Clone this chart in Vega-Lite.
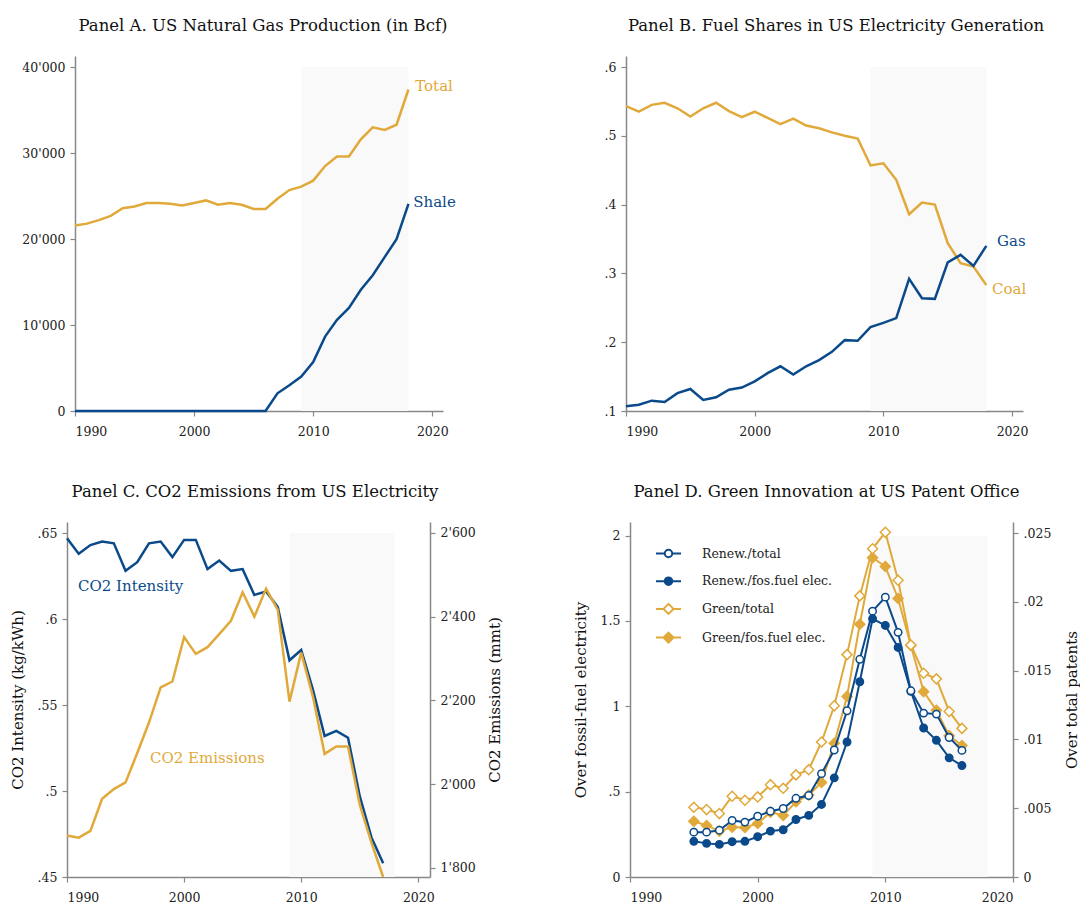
{
  "$schema": "https://vega.github.io/schema/vega-lite/v6.json",
  "background": "white",
  "padding": {"left": 10, "top": 17, "right": 0, "bottom": 0},
  "config": {
    "font": "DejaVu Serif",
    "view": {"stroke": null},
    "axis": {"grid": false, "domainColor": "#888888", "tickColor": "#888888", "domainWidth": 1.5, "tickWidth": 1.2, "tickSize": 5,
      "labelFont": "DejaVu Serif", "labelFontSize": 12.5, "labelColor": "#222222", "titleFont": "DejaVu Serif", "titleFontSize": 15,
      "titleFontWeight": "normal", "titleColor": "#111111"},
    "axisX": {"labelPadding": 9},
    "axisY": {"labelPadding": 5},
    "title": {"font": "DejaVu Serif", "fontSize": 16.5, "fontWeight": "normal", "color": "#111111", "anchor": "middle", "frame": "group", "offset": 22}
  },
  "datasets": {
    "gas": [
      {"year": 1990, "Total": 21570, "Shale": 0}, {"year": 1991, "Total": 21800, "Shale": 0}, {"year": 1992, "Total": 22200, "Shale": 0},
      {"year": 1993, "Total": 22700, "Shale": 0}, {"year": 1994, "Total": 23600, "Shale": 0}, {"year": 1995, "Total": 23800, "Shale": 0},
      {"year": 1996, "Total": 24200, "Shale": 0}, {"year": 1997, "Total": 24200, "Shale": 0}, {"year": 1998, "Total": 24100, "Shale": 0},
      {"year": 1999, "Total": 23900, "Shale": 0}, {"year": 2000, "Total": 24200, "Shale": 0}, {"year": 2001, "Total": 24500, "Shale": 0},
      {"year": 2002, "Total": 24000, "Shale": 0}, {"year": 2003, "Total": 24200, "Shale": 0}, {"year": 2004, "Total": 24000, "Shale": 0},
      {"year": 2005, "Total": 23500, "Shale": 0}, {"year": 2006, "Total": 23500, "Shale": 0}, {"year": 2007, "Total": 24700, "Shale": 2060},
      {"year": 2008, "Total": 25700, "Shale": 3000}, {"year": 2009, "Total": 26100, "Shale": 4000}, {"year": 2010, "Total": 26800, "Shale": 5700},
      {"year": 2011, "Total": 28500, "Shale": 8650}, {"year": 2012, "Total": 29600, "Shale": 10600}, {"year": 2013, "Total": 29600, "Shale": 12000},
      {"year": 2014, "Total": 31600, "Shale": 14100}, {"year": 2015, "Total": 33000, "Shale": 15800}, {"year": 2016, "Total": 32700, "Shale": 17900},
      {"year": 2017, "Total": 33300, "Shale": 20000}, {"year": 2018, "Total": 37400, "Shale": 24100}
    ],
    "fuel": [
      {"year": 1990, "Coal": 0.543, "Gas": 0.107}, {"year": 1991, "Coal": 0.535, "Gas": 0.109}, {"year": 1992, "Coal": 0.545, "Gas": 0.115},
      {"year": 1993, "Coal": 0.548, "Gas": 0.113}, {"year": 1994, "Coal": 0.540, "Gas": 0.126}, {"year": 1995, "Coal": 0.528, "Gas": 0.132},
      {"year": 1996, "Coal": 0.540, "Gas": 0.116}, {"year": 1997, "Coal": 0.548, "Gas": 0.120}, {"year": 1998, "Coal": 0.536, "Gas": 0.131},
      {"year": 1999, "Coal": 0.527, "Gas": 0.134}, {"year": 2000, "Coal": 0.535, "Gas": 0.143}, {"year": 2001, "Coal": 0.526, "Gas": 0.155},
      {"year": 2002, "Coal": 0.517, "Gas": 0.165}, {"year": 2003, "Coal": 0.525, "Gas": 0.153}, {"year": 2004, "Coal": 0.515, "Gas": 0.165},
      {"year": 2005, "Coal": 0.511, "Gas": 0.174}, {"year": 2006, "Coal": 0.505, "Gas": 0.186}, {"year": 2007, "Coal": 0.500, "Gas": 0.203},
      {"year": 2008, "Coal": 0.496, "Gas": 0.202}, {"year": 2009, "Coal": 0.457, "Gas": 0.222}, {"year": 2010, "Coal": 0.460, "Gas": 0.228},
      {"year": 2011, "Coal": 0.436, "Gas": 0.235}, {"year": 2012, "Coal": 0.386, "Gas": 0.292}, {"year": 2013, "Coal": 0.403, "Gas": 0.264},
      {"year": 2014, "Coal": 0.400, "Gas": 0.263}, {"year": 2015, "Coal": 0.344, "Gas": 0.316}, {"year": 2016, "Coal": 0.315, "Gas": 0.327},
      {"year": 2017, "Coal": 0.310, "Gas": 0.311}, {"year": 2018, "Coal": 0.283, "Gas": 0.340}
    ],
    "co2": [
      {"year": 1990, "intensity": 0.647, "emissions": 1877}, {"year": 1991, "intensity": 0.638, "emissions": 1872},
      {"year": 1992, "intensity": 0.643, "emissions": 1888}, {"year": 1993, "intensity": 0.645, "emissions": 1965},
      {"year": 1994, "intensity": 0.644, "emissions": 1988}, {"year": 1995, "intensity": 0.628, "emissions": 2004},
      {"year": 1996, "intensity": 0.633, "emissions": 2074}, {"year": 1997, "intensity": 0.644, "emissions": 2147},
      {"year": 1998, "intensity": 0.645, "emissions": 2231}, {"year": 1999, "intensity": 0.636, "emissions": 2245},
      {"year": 2000, "intensity": 0.646, "emissions": 2351}, {"year": 2001, "intensity": 0.646, "emissions": 2311},
      {"year": 2002, "intensity": 0.629, "emissions": 2327}, {"year": 2003, "intensity": 0.634, "emissions": 2358},
      {"year": 2004, "intensity": 0.628, "emissions": 2390}, {"year": 2005, "intensity": 0.629, "emissions": 2458},
      {"year": 2006, "intensity": 0.614, "emissions": 2400}, {"year": 2007, "intensity": 0.616, "emissions": 2467},
      {"year": 2008, "intensity": 0.607, "emissions": 2416}, {"year": 2009, "intensity": 0.576, "emissions": 2197},
      {"year": 2010, "intensity": 0.582, "emissions": 2314}, {"year": 2011, "intensity": 0.559, "emissions": 2209},
      {"year": 2012, "intensity": 0.532, "emissions": 2072}, {"year": 2013, "intensity": 0.535, "emissions": 2090},
      {"year": 2014, "intensity": 0.531, "emissions": 2090}, {"year": 2015, "intensity": 0.497, "emissions": 1951},
      {"year": 2016, "intensity": 0.473, "emissions": 1860}, {"year": 2017, "intensity": 0.458, "emissions": 1778}
    ],
    "pat": [
      {"year": 1995, "rt": 0.00326, "rf": 0.209, "gt": 0.00507, "gf": 0.326},
      {"year": 1996, "rt": 0.00326, "rf": 0.197, "gt": 0.00490, "gf": 0.302},
      {"year": 1997, "rt": 0.00340, "rf": 0.191, "gt": 0.00461, "gf": 0.269},
      {"year": 1998, "rt": 0.00411, "rf": 0.207, "gt": 0.00587, "gf": 0.292},
      {"year": 1999, "rt": 0.00399, "rf": 0.209, "gt": 0.00558, "gf": 0.290},
      {"year": 2000, "rt": 0.00442, "rf": 0.236, "gt": 0.00582, "gf": 0.314},
      {"year": 2001, "rt": 0.00478, "rf": 0.269, "gt": 0.00671, "gf": 0.380},
      {"year": 2002, "rt": 0.00498, "rf": 0.277, "gt": 0.00645, "gf": 0.361},
      {"year": 2003, "rt": 0.00572, "rf": 0.337, "gt": 0.00742, "gf": 0.441},
      {"year": 2004, "rt": 0.00592, "rf": 0.361, "gt": 0.00780, "gf": 0.480},
      {"year": 2005, "rt": 0.00751, "rf": 0.425, "gt": 0.00981, "gf": 0.554},
      {"year": 2006, "rt": 0.00923, "rf": 0.581, "gt": 0.01244, "gf": 0.784},
      {"year": 2007, "rt": 0.01208, "rf": 0.791, "gt": 0.01616, "gf": 1.058},
      {"year": 2008, "rt": 0.01582, "rf": 1.144, "gt": 0.02043, "gf": 1.481},
      {"year": 2009, "rt": 0.01932, "rf": 1.513, "gt": 0.02386, "gf": 1.871},
      {"year": 2010, "rt": 0.02034, "rf": 1.474, "gt": 0.02505, "gf": 1.819},
      {"year": 2011, "rt": 0.01778, "rf": 1.345, "gt": 0.02157, "gf": 1.632},
      {"year": 2012, "rt": 0.01353, "rf": 1.088, "gt": 0.01686, "gf": 1.357},
      {"year": 2013, "rt": 0.01191, "rf": 0.873, "gt": 0.01481, "gf": 1.086},
      {"year": 2014, "rt": 0.01184, "rf": 0.801, "gt": 0.01440, "gf": 0.977},
      {"year": 2015, "rt": 0.01014, "rf": 0.698, "gt": 0.01203, "gf": 0.828},
      {"year": 2016, "rt": 0.00920, "rf": 0.653, "gt": 0.01080, "gf": 0.770}
    ]
  },
  "columns": 2,
  "spacing": {"row": 111, "column": 183},
  "bounds": "flush",
  "concat": [
    {
      "width": 376, "height": 355,
      "title": {"text": "Panel A. US Natural Gas Production (in Bcf)", "dx": 8},
      "encoding": {
        "x": {"field": "year", "type": "quantitative", "scale": {"domain": [1990, 2020.9], "range": [8, 376], "nice": false, "zero": false},
          "axis": {"values": [1990, 2000, 2010, 2020], "format": "d", "title": null}},
        "y": {"field": "value", "type": "quantitative", "scale": {"domain": [0, 41300], "nice": false},
          "axis": {"values": [0, 10000, 20000, 30000, 40000], "title": null, "offset": -8, "labelExpr": "replace(format(datum.value, ','), /,/g, \"'\")"}}
      },
      "layer": [
        {"data": {"values": [{"year": 2009, "year2": 2018, "value": 0, "value2": 40000}]},
         "mark": {"type": "rect", "color": "#f9f9f9"},
         "encoding": {"x2": {"field": "year2"}, "y2": {"field": "value2"}}},
        {"data": {"name": "gas"}, "transform": [{"fold": ["Total", "Shale"], "as": ["series", "value"]}],
         "mark": {"type": "line", "strokeWidth": 2.5},
         "encoding": {"color": {"field": "series", "type": "nominal", "scale": {"domain": ["Total", "Shale"], "range": ["#e0a93a", "#0a4a8a"]}, "legend": null}}},
        {"data": {"values": [{"year": 2018.57, "value": 37790, "series": "Total"}, {"year": 2018.4, "value": 24300, "series": "Shale"}]},
         "mark": {"type": "text", "align": "left", "baseline": "middle", "fontSize": 15},
         "encoding": {"text": {"field": "series"}, "color": {"field": "series", "type": "nominal", "legend": null}}}
      ]
    },
    {
      "width": 397, "height": 355,
      "title": {"text": "Panel B. Fuel Shares in US Electricity Generation", "dx": 11.5},
      "encoding": {
        "x": {"field": "year", "type": "quantitative", "scale": {"domain": [1990, 2020.85], "nice": false, "zero": false},
          "axis": {"values": [1990, 2000, 2010, 2020], "format": "d", "title": null}},
        "y": {"field": "value", "type": "quantitative", "scale": {"domain": [0.1, 0.616], "nice": false, "zero": false},
          "axis": {"values": [0.1, 0.2, 0.3, 0.4, 0.5, 0.6], "title": null, "labelExpr": "replace(format(datum.value, '.1f'), /^0/, '')"}}
      },
      "layer": [
        {"data": {"values": [{"year": 2009, "year2": 2018, "value": 0.1, "value2": 0.6}]},
         "mark": {"type": "rect", "color": "#f9f9f9"},
         "encoding": {"x2": {"field": "year2"}, "y2": {"field": "value2"}}},
        {"data": {"name": "fuel"}, "transform": [{"fold": ["Coal", "Gas"], "as": ["series", "value"]}],
         "mark": {"type": "line", "strokeWidth": 2.5},
         "encoding": {"color": {"field": "series", "type": "nominal", "scale": {"domain": ["Coal", "Gas"], "range": ["#e0a93a", "#0a4a8a"]}, "legend": null}}},
        {"data": {"values": [{"year": 2018.83, "value": 0.347, "series": "Gas"}, {"year": 2018.44, "value": 0.277, "series": "Coal"}]},
         "mark": {"type": "text", "align": "left", "baseline": "middle", "fontSize": 15},
         "encoding": {"text": {"field": "series"}, "color": {"field": "series", "type": "nominal", "legend": null}}}
      ]
    },
    {
      "width": 376, "height": 355,
      "title": {"text": "Panel C. CO2 Emissions from US Electricity", "dx": 0},
      "encoding": {
        "x": {"field": "year", "type": "quantitative", "scale": {"domain": [1990, 2021], "range": [0, 363], "nice": false, "zero": false},
          "axis": {"values": [1990, 2000, 2010, 2020], "format": "d", "title": null}}
      },
      "layer": [
        {
          "encoding": {
            "y": {"field": "value", "type": "quantitative", "scale": {"domain": [0.45, 0.6564], "nice": false, "zero": false},
              "axis": {"values": [0.45, 0.5, 0.55, 0.6, 0.65], "title": "CO2 Intensity (kg/kWh)", "titlePadding": 12, "labelExpr": "replace(format(datum.value, '.2~f'), /^0/, '')"}}
          },
          "layer": [
            {"data": {"values": [{"year": 2009, "year2": 2018, "value": 0.45, "value2": 0.65}]},
             "mark": {"type": "rect", "color": "#f9f9f9"},
             "encoding": {"x2": {"field": "year2"}, "y2": {"field": "value2"}}},
            {"data": {"name": "co2"}, "transform": [{"fold": ["intensity"], "as": ["series", "value"]}],
             "mark": {"type": "line", "strokeWidth": 2.5, "color": "#0a4a8a"}},
            {"data": {"values": [{"year": 1990.94, "value": 0.619, "label": "CO2 Intensity"}]},
             "mark": {"type": "text", "align": "left", "baseline": "middle", "fontSize": 15, "color": "#0a4a8a"},
             "encoding": {"text": {"field": "label"}}}
          ]
        },
        {
          "encoding": {
            "y": {"field": "value", "type": "quantitative", "scale": {"domain": [1778, 2626], "nice": false, "zero": false},
              "axis": {"orient": "right", "offset": -13, "values": [1800, 2000, 2200, 2400, 2600], "title": "CO2 Emissions (mmt)", "titleAngle": 270, "titleBaseline": "top", "titlePadding": 12, "labelExpr": "replace(format(datum.value, ','), /,/g, \"'\")"}}
          },
          "layer": [
            {"data": {"name": "co2"}, "transform": [{"fold": ["emissions"], "as": ["series", "value"]}],
             "mark": {"type": "line", "strokeWidth": 2.5, "color": "#e0a93a"}},
            {"data": {"values": [{"year": 1997.09, "value": 2063, "label": "CO2 Emissions"}]},
             "mark": {"type": "text", "align": "left", "baseline": "middle", "fontSize": 15, "color": "#e0a93a"},
             "encoding": {"text": {"field": "label"}}}
          ]
        }
      ],
      "resolve": {"scale": {"y": "independent"}}
    },
    {
      "width": 397, "height": 355,
      "title": {"text": "Panel D. Green Innovation at US Patent Office", "dx": 2},
      "encoding": {
        "x": {"field": "year", "type": "quantitative", "scale": {"domain": [1990, 2020], "range": [4, 387], "nice": false, "zero": false},
          "axis": {"values": [1990, 2000, 2010, 2020], "format": "d", "title": null}}
      },
      "layer": [
        {
          "encoding": {
            "y": {"field": "value", "type": "quantitative", "scale": {"domain": [0, 2.08], "nice": false},
              "axis": {"offset": -4, "values": [0, 0.5, 1, 1.5, 2], "title": "Over fossil-fuel electricity", "titlePadding": 12, "labelExpr": "replace(format(datum.value, '~g'), /^0\\./, '.')"}}
          },
          "layer": [
            {"data": {"values": [{"year": 2009, "year2": 2018, "value": 0, "value2": 2}]},
             "mark": {"type": "rect", "color": "#f9f9f9"},
             "encoding": {"x2": {"field": "year2"}, "y2": {"field": "value2"}}},
            {"data": {"name": "pat"}, "transform": [{"fold": ["rf", "gf"], "as": ["series", "value"]}],
             "mark": {"type": "line", "strokeWidth": 2},
             "encoding": {"stroke": {"field": "series", "type": "nominal",
               "scale": {"domain": ["rt", "rf", "gt", "gf"], "range": ["#0a4a8a", "#0a4a8a", "#e0a93a", "#e0a93a"]},
               "legend": {"orient": "none", "legendX": 588, "legendY": 484, "title": null, "symbolSize": 625, "symbolStrokeWidth": 2,
                 "labelFont": "DejaVu Serif", "labelFontSize": 12.5, "labelColor": "#222222", "labelOffset": 20, "rowPadding": 5.7, "padding": 0,
                 "labelExpr": "datum.value == 'rt' ? 'Renew./total' : datum.value == 'rf' ? 'Renew./fos.fuel elec.' : datum.value == 'gt' ? 'Green/total' : 'Green/fos.fuel elec.'",
                 "encode": {"symbols": {"update": {
                   "shape": {"signal": "indexof(datum.value, 'r') === 0 ? 'M-1,0H-0.3M0.3,0H1M0.3,0A0.3,0.3,0,1,1,-0.3,0A0.3,0.3,0,1,1,0.3,0Z' : 'M-1,0H-0.4M0.4,0H1M0,-0.4L0.4,0L0,0.4L-0.4,0Z'"},
                   "fill": {"signal": "datum.value == 'rt' || datum.value == 'gt' ? '#ffffff' : (datum.value == 'rf' ? '#0a4a8a' : '#e0a93a')"},
                   "opacity": {"value": 1}, "fillOpacity": {"value": 1}, "strokeOpacity": {"value": 1}}}}}}}},
            {"data": {"name": "pat"}, "transform": [{"fold": ["rf"], "as": ["series", "value"]}],
             "mark": {"type": "point", "shape": "circle", "filled": true, "size": 55, "strokeWidth": 1.5, "opacity": 1},
             "encoding": {"stroke": {"field": "series", "type": "nominal"}, "fill": {"value": "#0a4a8a"}}},
            {"data": {"name": "pat"}, "transform": [{"fold": ["gf"], "as": ["series", "value"]}],
             "mark": {"type": "point", "shape": "diamond", "filled": true, "size": 100, "strokeWidth": 1.5, "opacity": 1},
             "encoding": {"stroke": {"field": "series", "type": "nominal"}, "fill": {"value": "#e0a93a"}}}
          ]
        },
        {
          "encoding": {
            "y": {"field": "value", "type": "quantitative", "scale": {"domain": [0, 0.0258], "nice": false},
              "axis": {"orient": "right", "offset": -10, "values": [0, 0.005, 0.01, 0.015, 0.02, 0.025], "title": "Over total patents", "titleAngle": 270, "titleBaseline": "top", "titlePadding": 14,
                "labelExpr": "datum.value == 0 ? '0' : replace(format(datum.value, '.3~f'), /^0/, '')"}}
          },
          "layer": [
            {"data": {"name": "pat"}, "transform": [{"fold": ["rt", "gt"], "as": ["series", "value"]}],
             "mark": {"type": "line", "strokeWidth": 2},
             "encoding": {"stroke": {"field": "series", "type": "nominal"}}},
            {"data": {"name": "pat"}, "transform": [{"fold": ["rt"], "as": ["series", "value"]}],
             "mark": {"type": "point", "shape": "circle", "filled": true, "size": 55, "strokeWidth": 1.5, "opacity": 1},
             "encoding": {"stroke": {"field": "series", "type": "nominal"}, "fill": {"value": "#ffffff"}}},
            {"data": {"name": "pat"}, "transform": [{"fold": ["gt"], "as": ["series", "value"]}],
             "mark": {"type": "point", "shape": "diamond", "filled": true, "size": 100, "strokeWidth": 1.5, "opacity": 1},
             "encoding": {"stroke": {"field": "series", "type": "nominal"}, "fill": {"value": "#ffffff"}}}
          ]
        }
      ],
      "resolve": {"scale": {"y": "independent"}}
    }
  ]
}
